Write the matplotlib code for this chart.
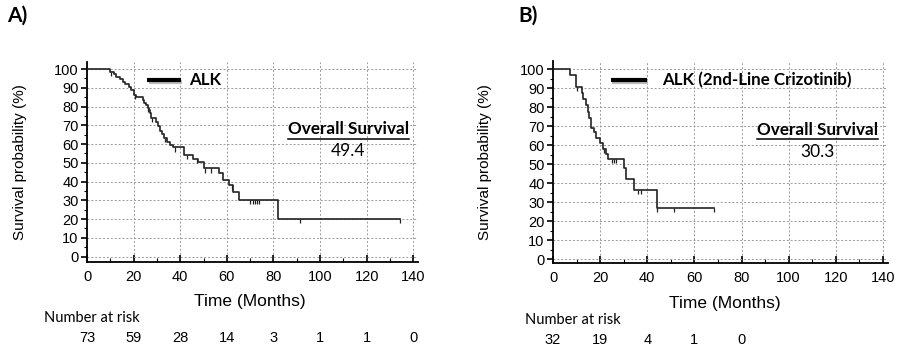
import numpy as np
import matplotlib
matplotlib.use("Agg")
from matplotlib import pyplot as plt
from matplotlib.lines import Line2D

# panel A - ALK
a_t = [0, 10, 11.5, 12.5, 14, 15.5, 16.5, 18, 19, 20, 21, 24, 24.5, 25.5, 26, 26.5, 27, 27.5,
       29.5, 30.5, 31.5, 32, 33, 34.5, 35.5, 37, 41.5, 45.5, 47.5, 50, 56.5, 58.5, 61, 62.5,
       65, 82]
a_s = [100, 98.6, 97.3, 95.9, 94.5, 93.2, 91.8, 90.4, 89.0, 86.3, 84.9, 83.5, 82.1, 80.7,
       79.3, 77.9, 76.5, 73.8, 71.6, 69.4, 67.2, 65.3, 63.4, 61.3, 59.4, 58.2, 54.4, 52.1,
       50.6, 47.1, 44.6, 41.0, 38.0, 34.6, 30.2, 20.0]
a_end = 134.4
a_cens = [10.5, 20.5, 26.3, 28, 33.5, 37.8, 42.8, 47, 50.6, 53.2, 62, 70, 71, 72, 73, 74,
          91.4, 134.4]
a_risk = [73, 59, 28, 14, 3, 1, 1, 0]

# panel B - ALK (2nd-Line Crizotinib)
b_t = [0, 7.3, 9.7, 12.2, 12.8, 13.8, 14.7, 15.3, 16, 17.2, 18.3, 19.8, 21.2, 22.3, 23.3,
       30.3, 31, 34.2, 44.1]
b_s = [100, 96.9, 90.6, 87.5, 84.4, 81.2, 77.6, 74.4, 68.8, 66.8, 64.0, 61.0, 58.0, 55.4,
       52.8, 47.8, 42.4, 36.4, 27.1]
b_end = 68.2
b_cens = [10, 21.6, 25.2, 25.9, 26.6, 36.2, 37.2, 44.3, 51.3, 68.2]
b_risk = [32, 19, 4, 1, 0]

risk_times = [0, 20, 40, 60, 80, 100, 120, 140]

fig = plt.figure(figsize=(8.97, 3.5), dpi=100)
axA = fig.add_axes([0.0970, 0.2521, 0.369, 0.5721])
axB = fig.add_axes([0.6165, 0.2483, 0.3731, 0.5763])

tickfont = "Liberation Sans"
calib = "Lato"


def km_panel(ax, t, s, t_end, cens, ylo, legend_txt, leg_x, median, risk, xlab_x, risk_x):
    tt = list(t) + [t_end]
    ss = list(s) + [s[-1]]
    ax.step(tt, ss, where="post", color="#222222", lw=1.2, zorder=3)
    # censor marks
    idx = np.searchsorted(t, cens, side="right") - 1
    cs = np.array(s)[idx]
    ax.vlines(cens, cs - 2.3, cs, color="#222222", lw=0.9, zorder=3)

    ax.set_xlim(0, 142)
    ax.set_ylim(ylo, 104)
    ax.set_xticks(np.arange(0, 141, 20))
    ax.set_xticks(np.arange(0, 141, 10), minor=True)
    ax.set_yticks(np.arange(0, 101, 10))
    ax.set_yticks(np.arange(0, 101, 5), minor=True)
    ax.grid(True, which="major", color="#9a9a9a", linestyle=(0, (2, 2)), lw=0.7)
    for sp in ["top", "right"]:
        ax.spines[sp].set_visible(False)
    for sp in ["left", "bottom"]:
        ax.spines[sp].set_linewidth(1.3)
    ax.tick_params(axis="x", which="major", direction="in", length=5, width=1.2, pad=6,
                   labelsize=10.5)
    ax.tick_params(axis="x", which="minor", direction="in", length=3, width=0.8)
    ax.tick_params(axis="y", which="major", direction="out", length=4, width=1.2, pad=2,
                   labelsize=10.5)
    ax.tick_params(axis="y", which="minor", direction="out", length=2.5, width=0.8)
    for lab in ax.get_xticklabels() + ax.get_yticklabels():
        lab.set_fontfamily(tickfont)

    ax.set_ylabel("Survival probability (%)", fontsize=11, family=tickfont)
    ax.yaxis.set_label_coords(-0.182, 0.5)
    ax.set_xlabel("Time (Months)", fontsize=12.5, family=tickfont)
    ax.xaxis.set_label_coords(xlab_x, -0.162)

    # legend
    ax.plot([leg_x[0] + 0.004, leg_x[1] + 0.004], [0.898, 0.898], transform=ax.transAxes,
            color="#bbbbbb", lw=3, solid_capstyle="butt", zorder=4)
    ax.plot(leg_x[:2], [0.907, 0.907], transform=ax.transAxes, color="black", lw=3,
            solid_capstyle="butt", zorder=5)
    ax.text(leg_x[2], 0.907, legend_txt, transform=ax.transAxes, fontsize=12.2,
            fontweight="bold", family=calib, va="center", ha="left")

    # overall survival
    ht = ax.text(0.79, 0.662, "Overall Survival", transform=ax.transAxes, fontsize=12.3,
                 fontweight="bold", family=calib, ha="center", va="center")
    ax.text(0.79, 0.553, median, transform=ax.transAxes, fontsize=12.5, family=calib,
            ha="center", va="center")

    # number at risk
    ax.text(risk_x, -0.283, "Number at risk", transform=ax.transAxes, fontsize=10.5,
            family=calib, ha="left", va="center")
    trans = ax.get_xaxis_transform()
    for xt, n in zip(risk_times, risk):
        ax.text(xt, -0.381, str(n), transform=trans, fontsize=10.5, family=tickfont,
                ha="center", va="center")
    return ht


hA = km_panel(axA, a_t, a_s, a_end, a_cens, -2.8, "ALK", [0.182, 0.284, 0.308], "49.4",
              a_risk, 0.492, -0.130)
hB = km_panel(axB, b_t, b_s, b_end, b_cens, -2.0, "ALK (2nd-Line Crizotinib)",
              [0.173, 0.281, 0.326], "30.3", b_risk, 0.514, -0.084)

fig.text(0.019, 0.955, "A)", fontsize=15, fontweight="bold", family=calib,
         ha="center", va="center")
fig.text(0.589, 0.955, "B)", fontsize=15, fontweight="bold", family=calib,
         ha="center", va="center")

# underline for "Overall Survival"
fig.canvas.draw()
inv = fig.transFigure.inverted()
for h in [hA, hB]:
    bb = h.get_window_extent()
    (x0, y0), (x1, y1) = inv.transform([[bb.x0, bb.y0], [bb.x1, bb.y1]])
    fig.add_artist(Line2D([x0, x1], [y0 - 0.004, y0 - 0.004], color="black", lw=1.1,
                          transform=fig.transFigure))

fig.savefig("out.png", dpi=100)
